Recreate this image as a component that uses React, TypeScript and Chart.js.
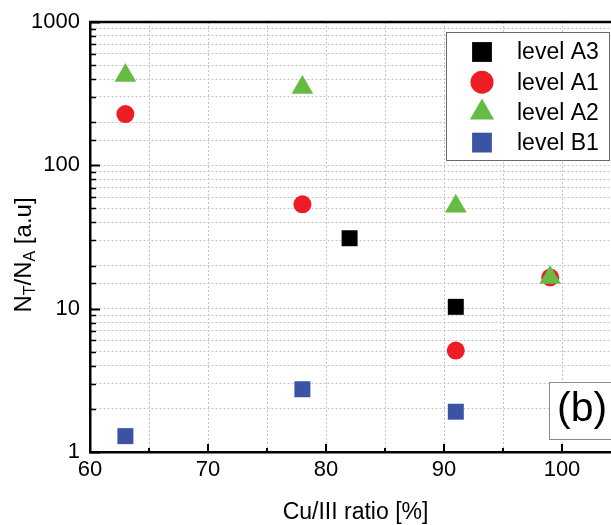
import React, { useEffect, useRef } from 'react';
import { Chart, registerables } from 'chart.js';

Chart.register(...registerables);

const FONT = "'Liberation Sans', Arial, Helvetica, sans-serif";

// Measured Cu/III ratio (%) and N_T/N_A (a.u.) per defect level
const seriesNames = ['level A3', 'level A1', 'level A2', 'level B1'];
const a3Ratio = [82, 91];
const a3Values = [31.0, 10.3];
const a1Ratio = [63, 78, 91, 99];
const a1Values = [228, 53.5, 5.1, 16.5];
const a2Ratio = [63, 78, 91, 99];
const a2Values = [423, 349, 51.8, 16.5];
const b1Ratio = [63, 78, 91];
const b1Values = [1.29, 2.74, 1.91];

const xLabeledTicks = [60, 70, 80, 90, 100];
const yLabeledTicks = [1, 10, 100, 1000];
const xTitle = 'Cu/III ratio [%]';
const panelLabel = '(b)';

const COLORS = ['#000000', '#ee1d25', '#66bb44', '#3a53a4'];
const SHAPES = ['rect', 'circle', 'triangle', 'rect'] as const;

type Shape = (typeof SHAPES)[number];

function toPoints(xs: number[], ys: number[]) {
  return xs.map((x, i) => ({ x, y: ys[i] }));
}

function drawMarker(ctx: CanvasRenderingContext2D, shape: Shape, x: number, y: number, r: number, color: string) {
  ctx.save();
  ctx.fillStyle = color;
  ctx.beginPath();
  if (shape === 'rect') {
    const h = r * Math.SQRT1_2;
    ctx.rect(x - h, y - h, 2 * h, 2 * h);
  } else if (shape === 'circle') {
    ctx.arc(x, y, r, 0, Math.PI * 2);
  } else {
    ctx.moveTo(x, y - r);
    ctx.lineTo(x + r * Math.sin((2 * Math.PI) / 3), y + r / 2);
    ctx.lineTo(x - r * Math.sin((2 * Math.PI) / 3), y + r / 2);
    ctx.closePath();
  }
  ctx.fill();
  ctx.restore();
}

// Inward tick marks and the top frame line
const frameTicks = {
  id: 'frameTicks',
  beforeDatasetsDraw(chart: any) {
    const { ctx, chartArea } = chart;
    const xs = chart.scales.x;
    const ys = chart.scales.y;
    ctx.save();
    ctx.strokeStyle = '#000';
    ctx.lineWidth = 2.5;
    ctx.beginPath();
    ctx.moveTo(chartArea.left - 1, chartArea.top);
    ctx.lineTo(chartArea.right, chartArea.top);
    ctx.stroke();

    for (const t of ys.ticks) {
      const v = t.value;
      const isMajor = Math.abs(Math.log10(v) - Math.round(Math.log10(v))) < 1e-9;
      const len = isMajor ? 10 : 6;
      const py = Math.round(ys.getPixelForValue(v)) + 0.5;
      ctx.lineWidth = isMajor ? 2 : 1.5;
      ctx.beginPath();
      ctx.moveTo(chartArea.left, py);
      ctx.lineTo(chartArea.left + len, py);
      ctx.stroke();
    }
    for (const t of xs.ticks) {
      const v = t.value;
      const isMajor = v % 10 === 0;
      const len = isMajor ? 8 : 4;
      const px = Math.round(xs.getPixelForValue(v));
      ctx.lineWidth = 2;
      ctx.beginPath();
      ctx.moveTo(px, chartArea.bottom);
      ctx.lineTo(px, chartArea.bottom - len);
      ctx.stroke();
    }
    ctx.restore();
  },
};

// Axis titles, boxed legend and panel tag
const annotations = {
  id: 'annotations',
  afterDraw(chart: any) {
    const { ctx, chartArea } = chart;
    ctx.save();

    // x title, centred under the plot
    ctx.fillStyle = '#000';
    ctx.font = `23px ${FONT}`;
    ctx.textAlign = 'center';
    ctx.textBaseline = 'middle';
    ctx.fillText(xTitle, (chartArea.left + chartArea.right) / 2, 513);

    // y title with subscripts
    const parts = [
      { t: 'N', sub: false },
      { t: 'T', sub: true },
      { t: '/N', sub: false },
      { t: 'A', sub: true },
      { t: ' [a.u]', sub: false },
    ];
    const mainFont = `24px ${FONT}`;
    const subFont = `16px ${FONT}`;
    let total = 0;
    for (const p of parts) {
      ctx.font = p.sub ? subFont : mainFont;
      total += ctx.measureText(p.t).width;
    }
    ctx.translate(24, 255);
    ctx.rotate(-Math.PI / 2);
    ctx.textAlign = 'left';
    let cx = -total / 2;
    for (const p of parts) {
      ctx.font = p.sub ? subFont : mainFont;
      ctx.fillText(p.t, cx, p.sub ? 7 : 0);
      cx += ctx.measureText(p.t).width;
    }
    ctx.setTransform(1, 0, 0, 1, 0, 0);
    ctx.restore();

    // legend
    ctx.save();
    const lx = 446.5, ly = 32.5, lw = 163, lh = 128;
    ctx.fillStyle = '#fff';
    ctx.fillRect(lx, ly, lw, lh);
    ctx.strokeStyle = '#6a6a6a';
    ctx.lineWidth = 1;
    ctx.strokeRect(lx, ly, lw, lh);
    const sizes = [14, 11.5, 14, 14];
    chart.data.datasets.forEach((ds: any, i: number) => {
      const rowY = 52 + i * 30.2;
      drawMarker(ctx, SHAPES[i], 482, rowY, sizes[i], COLORS[i]);
      ctx.fillStyle = '#000';
      ctx.font = `23px ${FONT}`;
      ctx.textAlign = 'left';
      ctx.textBaseline = 'middle';
      ctx.fillText(ds.label, 517, rowY + 1);
    });

    // panel tag
    ctx.fillStyle = '#fff';
    ctx.fillRect(549.5, 382.5, 80, 57);
    ctx.strokeStyle = '#8a8a8a';
    ctx.strokeRect(549.5, 382.5, 80, 57);
    ctx.fillStyle = '#000';
    ctx.font = `41px ${FONT}`;
    ctx.textAlign = 'left';
    ctx.textBaseline = 'middle';
    ctx.fillText(panelLabel, 557, 410);
    ctx.restore();
  },
};

export default function App() {
  const canvasRef = useRef<HTMLCanvasElement | null>(null);

  useEffect(() => {
    const canvas = canvasRef.current;
    if (!canvas) return;
    const xsList = [a3Ratio, a1Ratio, a2Ratio, b1Ratio];
    const ysList = [a3Values, a1Values, a2Values, b1Values];
    const radii = [11.3, 9, 12.5, 11.3];
    const drawOrder = [0, 2, 1, 3];

    const chart = new Chart(canvas, {
      type: 'scatter',
      data: {
        datasets: seriesNames.map((name, i) => ({
          label: name,
          data: toPoints(xsList[i], ysList[i]),
          pointStyle: SHAPES[i],
          pointRadius: radii[i],
          pointHoverRadius: radii[i],
          backgroundColor: COLORS[i],
          borderColor: COLORS[i],
          borderWidth: 0,
          order: drawOrder[i],
        })),
      },
      options: {
        animation: false,
        responsive: false,
        maintainAspectRatio: false,
        devicePixelRatio: 1,
        layout: { autoPadding: false, padding: { top: 22, left: 0, right: 0, bottom: 0 } },
        plugins: {
          legend: { display: false },
          tooltip: { enabled: false },
          title: { display: false },
        },
        scales: {
          x: {
            type: 'linear',
            min: 60,
            max: 105,
            afterFit: (axis: any) => {
              axis.height = 73;
              axis.paddingLeft = 0;
              axis.paddingRight = 0;
            },
            ticks: {
              stepSize: 5,
              autoSkip: false,
              maxRotation: 0,
              padding: 5,
              color: '#000',
              font: { family: FONT, size: 22 },
              callback: (v: any) => (xLabeledTicks.includes(Number(v)) ? String(v) : ''),
            },
            grid: { color: '#c4c4c4', lineWidth: 1, drawTicks: false },
            border: { display: true, color: '#000', width: 2.5, dash: [2, 2] },
          },
          y: {
            type: 'logarithmic',
            min: 1,
            max: 1000,
            afterFit: (axis: any) => {
              axis.width = 90;
              axis.paddingTop = 0;
              axis.paddingBottom = 0;
            },
            ticks: {
              autoSkip: false,
              padding: 10,
              color: '#000',
              font: { family: FONT, size: 22 },
              callback: (v: any) => (yLabeledTicks.includes(Number(v)) ? String(v) : ''),
            },
            grid: { color: '#c4c4c4', lineWidth: 1, drawTicks: false },
            border: { display: true, color: '#000', width: 2.5, dash: [2, 2] },
          },
        },
      },
      plugins: [frameTicks, annotations],
    } as any);

    return () => chart.destroy();
  }, []);

  return (
    <div
      style={{
        position: 'fixed',
        left: 0,
        top: 0,
        width: 611,
        height: 525,
        overflow: 'hidden',
        background: '#fff',
      }}
    >
      <div style={{ width: 621, height: 525 }}>
        <canvas
          ref={canvasRef}
          width={621}
          height={525}
          style={{ display: 'block', width: 621, height: 525 }}
        />
      </div>
    </div>
  );
}
